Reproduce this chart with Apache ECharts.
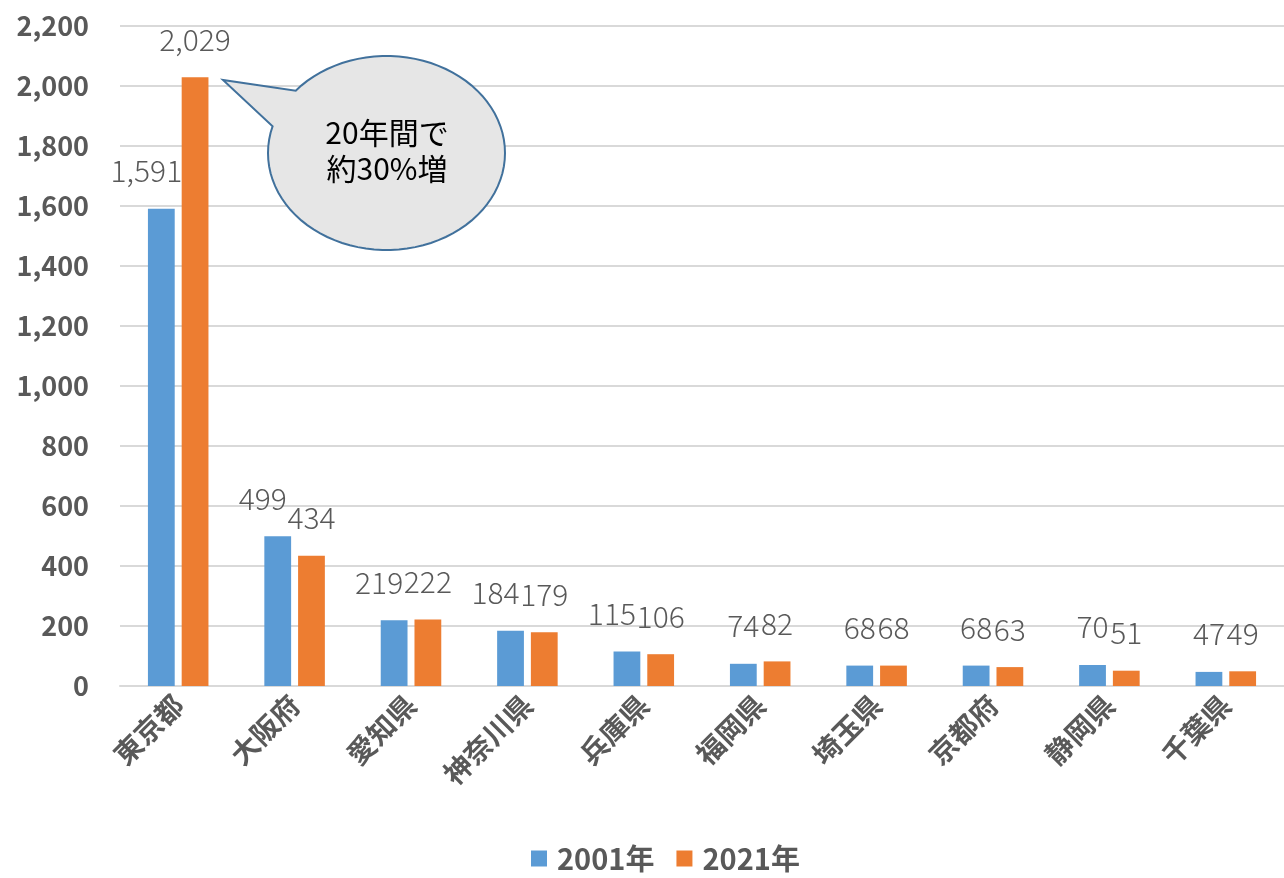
<!DOCTYPE html>
<html>
<head>
<meta charset="utf-8">
<script src="https://cdn.jsdelivr.net/npm/echarts@6/dist/echarts.min.js"></script>
<style>
  html, body { margin: 0; padding: 0; background: #fff; }
  #main { width: 1284px; height: 878px; }
</style>
</head>
<body>
<div id="main"></div>
<script>
// 都道府県別の数（2001年 / 2021年）
var categories = ["東京都", "大阪府", "愛知県", "神奈川県", "兵庫県", "福岡県", "埼玉県", "京都府", "静岡県", "千葉県"];
var values2001 = [1591, 499, 219, 184, 115, 74, 68, 68, 70, 47];
var values2021 = [2029, 434, 222, 179, 106, 82, 68, 63, 51, 49];
var seriesNames = ["2001年", "2021年"];
var calloutText = "20年間で\n約30%増";

var FONT = "'Noto Sans CJK JP', 'Noto Sans', sans-serif";
var GRAY = "#595959";

var chart = echarts.init(document.getElementById("main"), null, { renderer: "canvas" });

// 吹き出し（楕円＋しっぽ）の輪郭
function calloutPoints(cx, cy, rx, ry, a1, a2, tip) {
  var pts = [];
  for (var a = a1; a <= a2; a += 4) {
    var t = a * Math.PI / 180;
    pts.push([cx + rx * Math.cos(t), cy + ry * Math.sin(t)]);
  }
  pts.push(tip);
  return pts;
}

function labelFmt(p) {
  return echarts.format.addCommas(p.value);
}

var dataLabel = {
  show: true,
  position: "top",
  distance: 23,
  fontSize: 30,
  fontWeight: 300,
  color: GRAY,
  fontFamily: FONT,
  formatter: labelFmt
};

var option = {
  animation: false,
  color: ["#5B9BD5", "#ED7D31"],
  textStyle: { fontFamily: FONT },
  grid: { left: 120, right: 0, top: 26, bottom: 192, containLabel: false },
  legend: {
    data: seriesNames,
    bottom: 0,
    left: 526,
    icon: "rect",
    itemWidth: 16,
    itemHeight: 16,
    itemGap: 22,
    textStyle: { fontSize: 29, fontWeight: "bold", color: GRAY, fontFamily: FONT, padding: [0, 0, 0, 5] }
  },
  xAxis: {
    type: "category",
    data: categories,
    axisTick: { show: false },
    axisLine: { lineStyle: { color: "#D9D9D9", width: 2 } },
    axisLabel: {
      rotate: 45,
      interval: 0,
      margin: 14,
      fontSize: 28,
      fontWeight: "bold",
      color: GRAY,
      fontFamily: FONT
    }
  },
  yAxis: {
    type: "value",
    min: 0,
    max: 2200,
    interval: 200,
    axisLine: { show: false },
    axisTick: { show: false },
    splitLine: { lineStyle: { color: "#D9D9D9", width: 2 } },
    axisLabel: {
      margin: 31,
      fontSize: 27,
      fontWeight: "bold",
      color: GRAY,
      fontFamily: FONT,
      formatter: function (v) { return echarts.format.addCommas(v); }
    }
  },
  series: [
    {
      name: seriesNames[0],
      type: "bar",
      barGap: "26%",
      barCategoryGap: "48%",
      // 3桁以上のラベルは隣と重ならないよう左へずらす
      data: values2001.map(function (v) {
        return v >= 100 ? { value: v, label: { offset: [-15, 0] } } : v;
      }),
      label: dataLabel
    },
    {
      name: seriesNames[1],
      type: "bar",
      data: values2021,
      label: dataLabel
    }
  ],
  graphic: [
    {
      type: "polygon",
      z: 100,
      shape: { points: calloutPoints(386.5, 153, 118.5, 97, 220, 558, [223, 80]) },
      style: { fill: "#E6E6E6", stroke: "#41719C", lineWidth: 2 }
    },
    {
      type: "text",
      z: 101,
      x: 387,
      y: 151,
      style: {
        text: calloutText,
        fill: "#000",
        font: "30px " + FONT,
        align: "center",
        verticalAlign: "middle",
        lineHeight: 36
      }
    }
  ]
};

chart.setOption(option);
</script>
</body>
</html>
